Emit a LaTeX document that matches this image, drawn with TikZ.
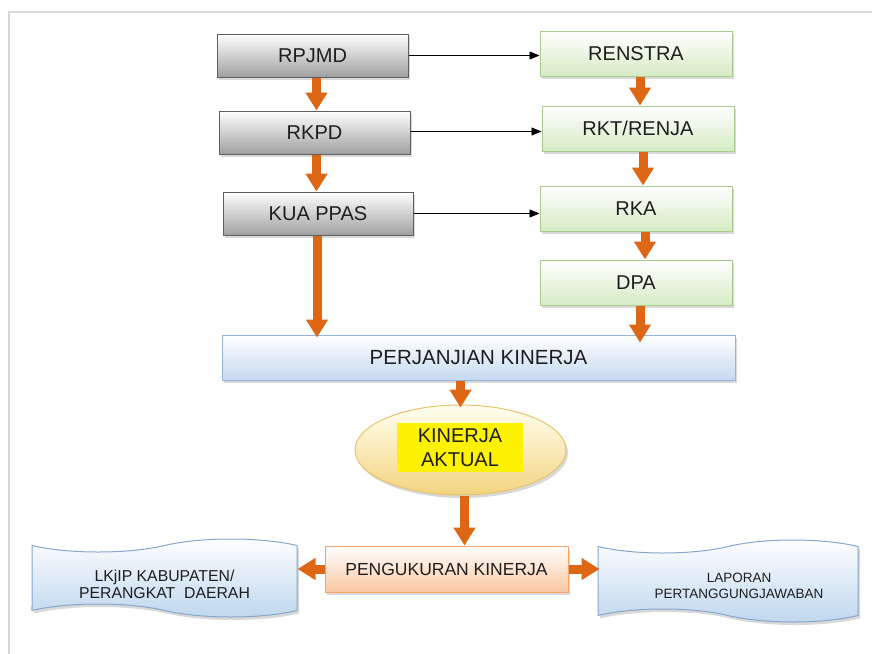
\documentclass[tikz,border=0pt]{standalone}
\usepackage{fontspec}
\setmainfont{Liberation Sans}
\usetikzlibrary{arrows.meta,shadows,shapes.geometric,shapes.symbols}

\definecolor{teks}{HTML}{1E1E1E}
\definecolor{oranye}{HTML}{DD6714}
\definecolor{abutepi}{HTML}{5E5E5E}
\definecolor{abubawah}{HTML}{A0A0A0}
\definecolor{hijautepi}{HTML}{A9CC8C}
\definecolor{hijaubawah}{HTML}{D6EBC5}
\definecolor{birutepi}{HTML}{95B3D7}
\definecolor{birubawah}{HTML}{C6D9F1}
\definecolor{persiktepi}{HTML}{F4A46C}
\definecolor{persikbawah}{HTML}{FAC8A2}
\definecolor{kuningtepi}{HTML}{E3C46E}
\definecolor{kuningbawah}{HTML}{F3D480}
\definecolor{pitatepi}{HTML}{86A6CC}
\definecolor{pitabawah}{HTML}{BED6EE}

\newcommand{\turunteks}[2]{\raisebox{#1}[0pt][0pt]{\begin{tabular}{@{}c@{}}#2\end{tabular}}}

\begin{document}
\begin{tikzpicture}[x=1pt,y=-1pt,
    bayang/.style={drop shadow={shadow xshift=2pt,shadow yshift=-3pt,opacity=0.3}},
    kotak/.style={rectangle,inner sep=0pt,line width=1pt,text=teks,bayang,
        font=\fontsize{20}{23}\selectfont},
    kotakabu/.style={kotak,draw=abutepi,top color=white,bottom color=abubawah,
        minimum width=191pt,minimum height=43pt},
    kotakhijau/.style={kotak,draw=hijautepi,top color=white,bottom color=hijaubawah,
        minimum width=192pt,minimum height=45pt},
    pita/.style={tape,tape bend top=in and out,tape bend bottom=out and in,
        tape bend height=13pt,draw=pitatepi,line width=1pt,top color=white,
        bottom color=pitabawah,inner sep=0pt,text=teks,bayang},
    blok/.style={draw=oranye,line width=9pt,-{Triangle[width=21pt,length=18pt]}},
    tipis/.style={draw=black,line width=0.8pt,-{Triangle[width=8pt,length=10pt]}}]

    \useasboundingbox (0,0) rectangle (872,653);
    \draw[black!15,line width=2.5pt] (9,700) -- (9,12) -- (900,12);

    % kolom kiri
    \node[kotakabu] (rpjmd) at (312.5,55.5) {RPJMD};
    \node[kotakabu] (rkpd) at (314.5,132.5) {RKPD};
    \node[kotakabu,minimum width=190pt] (kua) at (318,213.5) {KUA PPAS};

    % kolom kanan
    \node[kotakhijau] (renstra) at (636,53.5) {RENSTRA};
    \node[kotakhijau] (renja) at (638,128.5) {RKT/RENJA};
    \node[kotakhijau] (rka) at (636,208.5) {RKA};
    \node[kotakhijau] (dpa) at (636,282.5) {DPA};

    \node[kotak,draw=birutepi,top color=white,bottom color=birubawah,
        minimum width=513pt,minimum height=45pt,
        font=\fontsize{20.5}{24}\selectfont] (pk) at (478.5,357.5) {PERJANJIAN KINERJA};

    \node[ellipse,draw=kuningtepi,line width=1pt,top color=yellow!6,
        bottom color=kuningbawah,minimum width=211pt,minimum height=90pt,
        bayang] (aktual) at (460.5,450) {};
    \node[fill=yellow,text=teks,align=center,minimum width=126pt,minimum height=49pt,
        inner sep=0pt,font=\fontsize{20}{24}\selectfont] (aktualteks) at (460,447.5)
        {KINERJA\\AKTUAL};

    \node[kotak,draw=persiktepi,top color=white,bottom color=persikbawah,
        minimum width=243pt,minimum height=46pt,
        font=\fontsize{17.5}{20}\selectfont] (ukur) at (446.5,569) {PENGUKURAN KINERJA};

    \node[pita,minimum width=265pt,minimum height=78pt,
        font=\fontsize{15.8}{17}\selectfont] (lkjip) at (164.5,578)
        {\turunteks{-12pt}{LKjIP KABUPATEN/\\PERANGKAT\ \ DAERAH}};
    \node[pita,minimum width=260pt,minimum height=82pt,
        font=\fontsize{13.5}{16.5}\selectfont] (laporan) at (728,581)
        {\hspace*{22pt}\turunteks{-10pt}{LAPORAN\\PERTANGGUNGJAWABAN}};

    % panah tipis
    \draw[tipis] (rpjmd.east) -- (rpjmd.east -| renstra.west);
    \draw[tipis] ([yshift=1pt]rkpd.east) -- ([yshift=1pt]rkpd.east -| renja.west);
    \draw[tipis] (kua.east) -- (kua.east -| rka.west);

    % panah oranye
    \draw[blok] ([xshift=4pt]rpjmd.south) -- ([xshift=4pt]rpjmd.south |- rkpd.north);
    \draw[blok] ([xshift=2pt]rkpd.south) -- ([xshift=2pt]rkpd.south |- kua.north);
    \draw[blok] ([xshift=-1pt]kua.south) -- ([xshift=-1pt,yshift=-3pt]kua.south |- pk.north);
    \draw[blok] ([xshift=4pt]renstra.south) -- ([xshift=4pt]renstra.south |- renja.north);
    \draw[blok] ([xshift=5pt]renja.south) -- ([xshift=5pt]renja.south |- rka.north);
    \draw[blok] ([xshift=9pt]rka.south) -- ([xshift=9pt]rka.south |- dpa.north);
    \draw[blok] ([xshift=4pt]dpa.south) -- ([xshift=4pt,yshift=-8pt]dpa.south |- pk.north);
    \draw[blok] ([xshift=-18pt]pk.south) -- ([xshift=-18pt,yshift=-3pt]pk.south |- aktual.north);
    \draw[blok] ([xshift=4pt]aktual.south) -- ([xshift=4pt]aktual.south |- ukur.north);
    \draw[blok] (ukur.west) -- (ukur.west -| lkjip.east);
    \draw[blok] (ukur.east) -- ([xshift=2pt]ukur.east -| laporan.west);
\end{tikzpicture}
\end{document}
